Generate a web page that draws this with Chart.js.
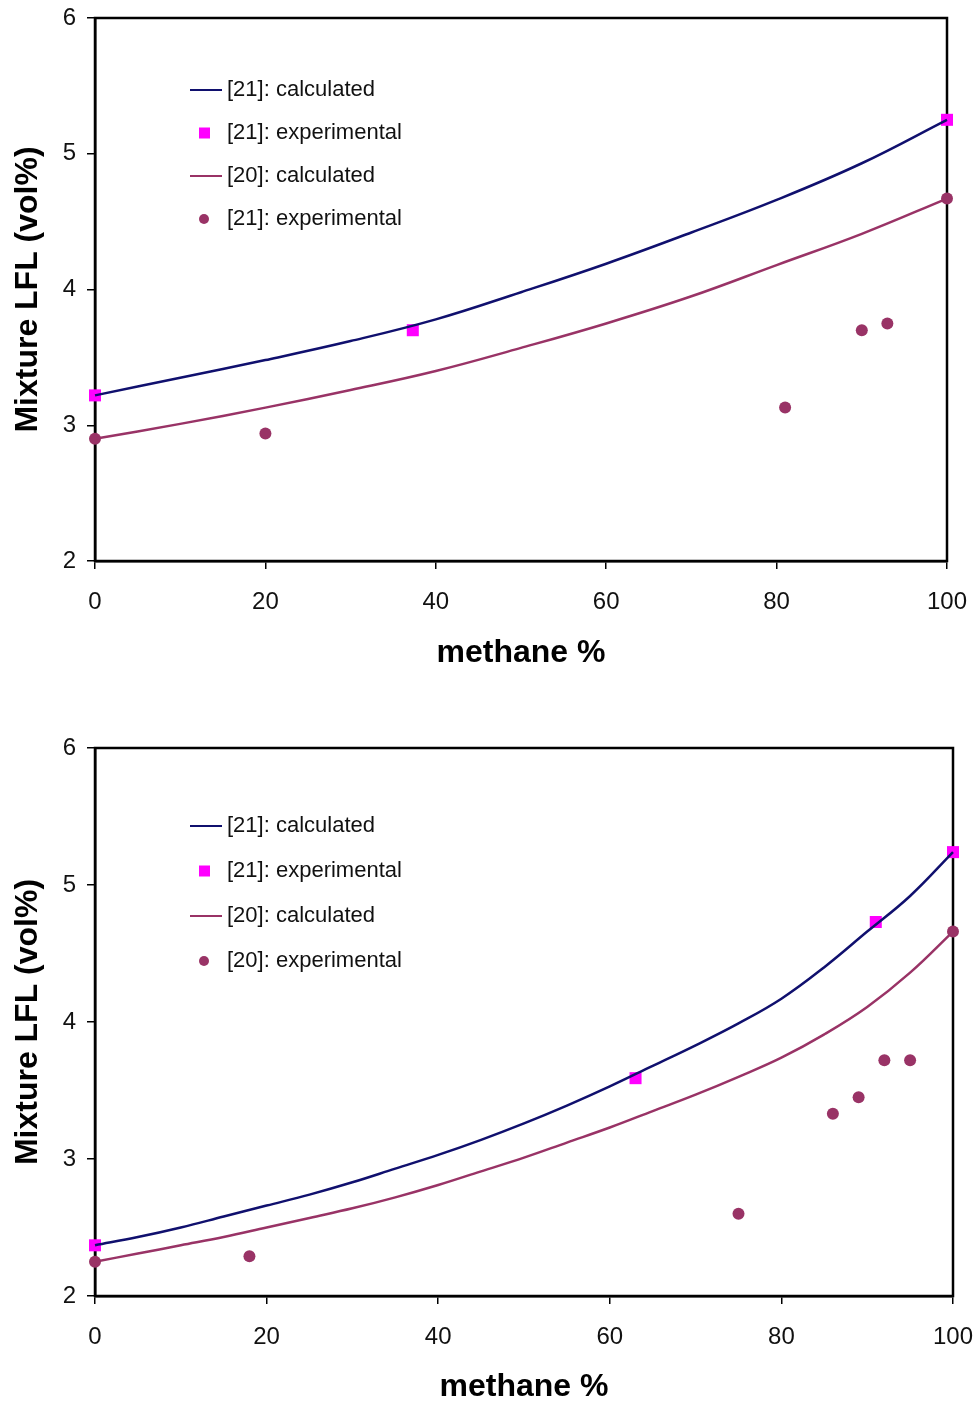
<!DOCTYPE html>
<html>
<head>
<meta charset="utf-8">
<script src="https://cdn.jsdelivr.net/npm/chart.js@4"></script>
<style>
  body { margin: 0; background: #fff; }
  .box { position: absolute; left: 0; }
</style>
</head>
<body>
<div class="box" style="top:0"><canvas id="top" width="976" height="700"></canvas></div>
<div class="box" style="top:700px"><canvas id="bottom" width="976" height="706"></canvas></div>
<script>
// axis ticks
const xTicks = [0, 20, 40, 60, 80, 100];
const yTicks = [2, 3, 4, 5, 6];

// top chart
const topCalcX = [0, 10, 20, 30, 40, 50, 60, 70, 80, 90, 100];
const topCalc21 = [3.22, 3.35, 3.48, 3.62, 3.78, 3.98, 4.19, 4.42, 4.66, 4.93, 5.25];
const topCalc20 = [2.90, 3.01, 3.13, 3.26, 3.40, 3.57, 3.75, 3.95, 4.18, 4.41, 4.67];
const topExp21X = [0, 37.3, 100];
const topExp21Y = [3.22, 3.70, 5.25];
const topExp20X = [0, 20, 81, 90, 93, 100];
const topExp20Y = [2.90, 2.94, 3.13, 3.70, 3.75, 4.67];
const topLabels = ['[21]: calculated', '[21]: experimental', '[20]: calculated', '[21]: experimental'];

// bottom chart
const botCalcX = [0, 5, 10, 15, 20, 25, 30, 35, 40, 45, 50, 55, 60, 65, 70, 75, 80, 85, 90, 95, 100];
const botCalc21 = [2.37, 2.43, 2.50, 2.58, 2.66, 2.74, 2.83, 2.93, 3.03, 3.14, 3.26, 3.39, 3.53, 3.68, 3.83,
                   3.99, 4.17, 4.40, 4.66, 4.92, 5.24];
const botCalc20 = [2.25, 2.31, 2.37, 2.43, 2.50, 2.57, 2.64, 2.72, 2.81, 2.91, 3.01, 3.12, 3.23, 3.35, 3.47,
                   3.60, 3.74, 3.91, 4.11, 4.36, 4.66];
const botExp21X = [0, 63, 91, 100];
const botExp21Y = [2.37, 3.59, 4.73, 5.24];
const botExp20X = [0, 18, 75, 86, 89, 92, 95, 100];
const botExp20Y = [2.25, 2.29, 2.60, 3.33, 3.45, 3.72, 3.72, 4.66];
const botLabels = ['[21]: calculated', '[21]: experimental', '[20]: calculated', '[20]: experimental'];

const BLUE = '#10106e';
const PLUM = '#993366';
const MAGENTA = '#ff00ff';

const pts = (xs, ys) => xs.map((x, i) => ({ x: x, y: ys[i] }));

// box round the plot area
const frame = {
  id: 'frame',
  beforeDatasetsDraw(chart) {
    const a = chart.chartArea, ctx = chart.ctx;
    ctx.save();
    ctx.strokeStyle = '#000';
    ctx.lineWidth = 2.5;
    ctx.strokeRect(a.left, a.top, a.right - a.left, a.bottom - a.top);
    ctx.restore();
  }
};

// legend drawn inside the plot
const innerLegend = {
  id: 'innerLegend',
  afterDatasetsDraw(chart, args, opts) {
    const ctx = chart.ctx;
    ctx.save();
    ctx.font = '22px Arial, "Liberation Sans", sans-serif';
    ctx.textBaseline = 'middle';
    ctx.fillStyle = '#111';
    chart.data.datasets.forEach((ds, i) => {
      const y = opts.y + i * opts.gap;
      if (ds.showLine) {
        ctx.strokeStyle = ds.borderColor;
        ctx.lineWidth = 2;
        ctx.beginPath();
        ctx.moveTo(opts.x, y);
        ctx.lineTo(opts.x + 32, y);
        ctx.stroke();
      } else {
        ctx.fillStyle = ds.backgroundColor;
        if (ds.pointStyle === 'rect') {
          ctx.fillRect(opts.x + 9, y - 5.5, 11, 11);
        } else {
          ctx.beginPath();
          ctx.arc(opts.x + 14, y, 5, 0, Math.PI * 2);
          ctx.fill();
        }
        ctx.fillStyle = '#111';
      }
      ctx.fillText(ds.label, opts.x + 37, y);
    });
    ctx.restore();
  }
};

function makeChart(id, labels, calcX, calc21, calc20, e21x, e21y, e20x, e20y, pad, legend, titlePad) {
  return new Chart(document.getElementById(id), {
    type: 'scatter',
    data: {
      datasets: [
        { label: labels[0], data: pts(calcX, calc21), showLine: true, borderColor: BLUE, borderWidth: 2.5,
          pointRadius: 0, tension: 0.4, clip: false },
        { label: labels[1], data: pts(e21x, e21y), pointStyle: 'rect', pointRadius: 8.5,
          backgroundColor: MAGENTA, borderWidth: 0, clip: false },
        { label: labels[2], data: pts(calcX, calc20), showLine: true, borderColor: PLUM, borderWidth: 2.5,
          pointRadius: 0, tension: 0.4, clip: false },
        { label: labels[3], data: pts(e20x, e20y), pointStyle: 'circle', pointRadius: 6,
          backgroundColor: PLUM, borderWidth: 0, clip: false }
      ]
    },
    options: {
      responsive: false,
      animation: false,
      devicePixelRatio: 1,
      layout: { padding: { left: 0, top: pad.top, right: pad.right, bottom: 0 } },
      plugins: {
        legend: { display: false },
        tooltip: { enabled: false },
        innerLegend: legend
      },
      scales: {
        x: {
          type: 'linear', min: 0, max: 100,
          afterBuildTicks: s => { s.ticks = xTicks.map(v => ({ value: v })); },
          afterFit: s => { s.height = pad.xHeight; s.paddingLeft = 0; s.paddingRight = 0; },
          grid: { drawOnChartArea: false, drawTicks: true, tickLength: 8, color: '#000', lineWidth: 1.5 },
          border: { display: true, color: '#000', width: 2.5 },
          ticks: { autoSkip: false, maxRotation: 0, padding: 19, color: '#111',
                   font: { family: 'Arial, "Liberation Sans", sans-serif', size: 24 } },
          title: { display: true, text: 'methane %', color: '#000',
                   font: { family: 'Arial, "Liberation Sans", sans-serif', size: 32, weight: 'bold' },
                   padding: { top: 0, bottom: titlePad } }
        },
        y: {
          type: 'linear', min: 2, max: 6,
          afterBuildTicks: s => { s.ticks = yTicks.map(v => ({ value: v })); },
          afterFit: s => { s.width = 95; s.paddingTop = 0; s.paddingBottom = 0; },
          grid: { drawOnChartArea: false, drawTicks: true, tickLength: 8, color: '#000', lineWidth: 1.5 },
          border: { display: true, color: '#000', width: 2.5 },
          ticks: { padding: 11, color: '#111',
                   font: { family: 'Arial, "Liberation Sans", sans-serif', size: 24 } },
          title: { display: true, text: 'Mixture LFL (vol%)', color: '#000',
                   font: { family: 'Arial, "Liberation Sans", sans-serif', size: 32, weight: 'bold' },
                   padding: { top: 9, bottom: 0 } }
        }
      }
    },
    plugins: [frame, innerLegend]
  });
}

makeChart('top', topLabels, topCalcX, topCalc21, topCalc20, topExp21X, topExp21Y, topExp20X, topExp20Y,
  { top: 18, right: 29, xHeight: 139 }, { x: 190, y: 90, gap: 43 }, 28);

makeChart('bottom', botLabels, botCalcX, botCalc21, botCalc20, botExp21X, botExp21Y, botExp20X, botExp20Y,
  { top: 48, right: 23, xHeight: 110 }, { x: 190, y: 126, gap: 45 }, 0);
</script>
</body>
</html>
